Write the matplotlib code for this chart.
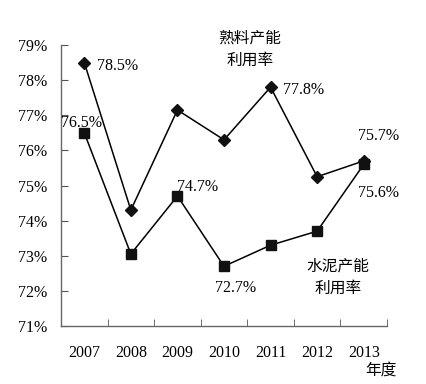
import matplotlib
matplotlib.use("Agg")
import matplotlib.pyplot as plt

years = ["2007", "2008", "2009", "2010", "2011", "2012", "2013"]
clinker = [78.5, 74.3, 77.15, 76.3, 77.8, 75.25, 75.7]
cement = [76.5, 73.05, 74.7, 72.7, 73.3, 73.7, 75.6]
yticks = [71, 72, 73, 74, 75, 76, 77, 78, 79]

num_font = ["Liberation Serif", "DejaVu Serif"]
cjk_font = ["Noto Sans CJK SC", "DejaVu Sans"]
fs = 11.5

fig = plt.figure(figsize=(4.26, 3.84), dpi=100)
ax = fig.add_axes([61/426, 1-326/384, (387-61)/426, (326-45)/384])

x = list(range(len(years)))
ax.plot(x, clinker, color="black", lw=1.1, marker="D", markersize=6.5,
        markerfacecolor="#111111", markeredgecolor="#111111", zorder=3)
ax.plot(x, cement, color="black", lw=1.1, marker="s", markersize=7,
        markerfacecolor="#111111", markeredgecolor="#111111", zorder=3)

ax.set_xlim(-0.5, len(years) - 0.5)
ax.set_ylim(71, 79)
ax.set_yticks(yticks)
ax.set_yticklabels([f"{v}%" for v in yticks], fontfamily=num_font, fontsize=fs)
ax.set_xticks(x)
ax.set_xticklabels(years, fontfamily=num_font, fontsize=fs)
ax.set_xticks([i + 0.5 for i in x], minor=True)
ax.tick_params(axis="x", which="major", length=0, pad=14)
ax.tick_params(axis="x", which="minor", direction="in", length=5, color="#555555")
ax.tick_params(axis="y", direction="in", length=5, color="#555555", pad=10)
for s in ["top", "right"]:
    ax.spines[s].set_visible(False)
for s in ["left", "bottom"]:
    ax.spines[s].set_color("#666666")
    ax.spines[s].set_linewidth(1.0)

def lab(xi, yv, txt, dx, dy, ha="center"):
    ax.annotate(txt, xy=(xi, yv), xytext=(dx, dy), textcoords="offset pixels",
                ha=ha, va="center", fontfamily=num_font, fontsize=fs)

lab(0, clinker[0], f"{clinker[0]}%", 13, -3, ha="left")
lab(4, clinker[4], f"{clinker[4]}%", 12, -3, ha="left")
lab(6, clinker[6], f"{clinker[6]}%", 15, 25)
lab(0, cement[0], f"{cement[0]}%", -3, 10)
lab(2, cement[2], f"{cement[2]}%", 0, 9, ha="left")
lab(3, cement[3], f"{cement[3]}%", 12, -22)
lab(6, cement[6], f"{cement[6]}%", 15, -29)

fig.text(250/426, 1-49/384, "熟料产能\n利用率", ha="center", va="center",
         fontfamily=cjk_font, fontsize=11.3, linespacing=1.4)
fig.text(338/426, 1-277/384, "水泥产能\n利用率", ha="center", va="center",
         fontfamily=cjk_font, fontsize=11.3, linespacing=1.4)
fig.text(381/426, 1-371/384, "年度", ha="center", va="center",
         fontfamily=cjk_font, fontsize=11.3)

fig.savefig("out.png", dpi=100, facecolor="white")
